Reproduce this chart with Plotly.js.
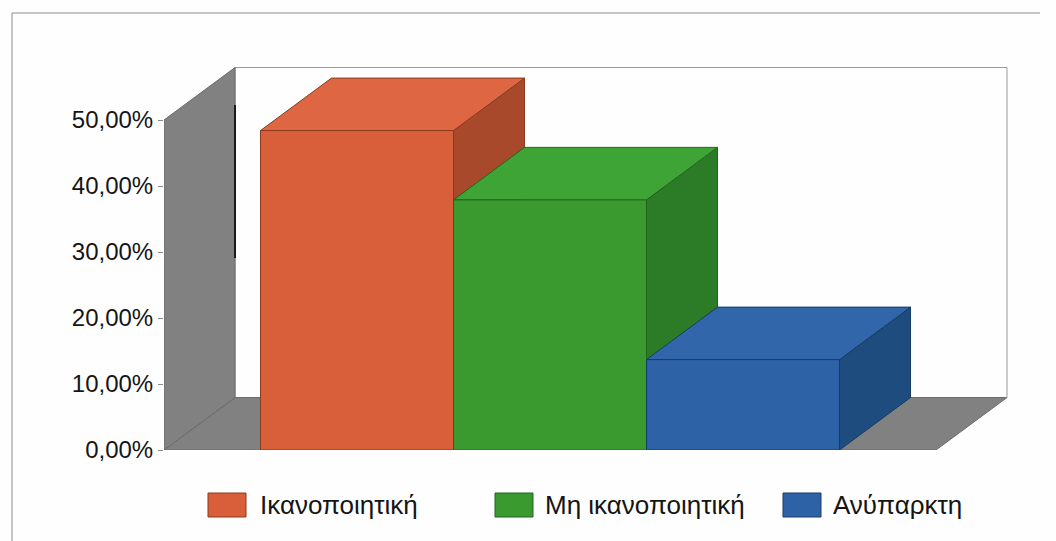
<!DOCTYPE html>
<html><head><meta charset="utf-8">
<script src="https://cdn.plot.ly/plotly-3.0.1.min.js"></script>
<style>html,body{margin:0;padding:0;background:#fff}#chart{width:1056px;height:541px}</style>
</head><body><div id="chart"></div>
<script>
// ---- data ----
const categories = ['Ικανοποιητική', 'Μη ικανοποιητική', 'Ανύπαρκτη'];
const values = [0.484, 0.379, 0.137];
const tickValues = [0, 0.1, 0.2, 0.3, 0.4, 0.5];

// ---- styles ----
const frontColors = ['#D95F3B', '#3A9A30', '#2E62A6'];
const topColors   = ['#DE6642', '#3FA436', '#3166AA'];
const sideColors  = ['#A8492B', '#2C7C27', '#1F4C7E'];
const edgeColors  = ['#8A3A20', '#22641E', '#173C64'];
const wallColor = '#818181';
const DX = 0.368, DY = 0.0795;      // oblique depth offset in data units
const AXMAX = 0.5;                   // wall height
const XMIN = -0.5, XMAX = categories.length + 0.5;

// plot area in px (for layout-only elements)
const M = {l: 164, r: 46, t: 55, b: 91};
const W = 1056, H = 541;
const pw = W - M.l - M.r, ph = H - M.t - M.b;
const px2x = p => (p - M.l) / pw;
const px2y = p => (H - M.b - p) / ph;

function face(xs, ys, fill, line) {
  return {type: 'scatter', mode: 'lines', x: xs.concat([xs[0]]), y: ys.concat([ys[0]]),
    fill: 'toself', fillcolor: fill, line: {color: line, width: 1},
    hoverinfo: 'skip', showlegend: false};
}

const traces = [];
// floor
traces.push(face([XMIN, XMIN + DX, XMAX + DX, XMAX], [0, DY, DY, 0], wallColor, '#6a6a6a'));
// back wall outline
traces.push({type: 'scatter', mode: 'lines',
  x: [XMIN + DX, XMIN + DX, XMAX + DX, XMAX + DX], y: [DY, AXMAX + DY, AXMAX + DY, DY],
  line: {color: '#9a9a9a', width: 1}, hoverinfo: 'skip', showlegend: false});
// left wall
traces.push(face([XMIN, XMIN, XMIN + DX, XMIN + DX], [0, AXMAX, AXMAX + DY, DY], wallColor, '#6a6a6a'));

// bars (left to right so later bars occlude earlier side faces)
values.forEach((v, i) => {
  const x0 = i, x1 = i + 1;
  traces.push(face([x1, x1, x1 + DX, x1 + DX], [0, v, v + DY, DY], sideColors[i], edgeColors[i]));
  traces.push(face([x0, x1, x1 + DX, x0 + DX], [v, v, v + DY, v + DY], topColors[i], edgeColors[i]));
  traces.push(face([x0, x1, x1, x0], [0, 0, v, v], frontColors[i], edgeColors[i]));
});

// legend (layout elements)
const legendBoxes = [[208, 246], [495, 533], [783, 821]];
const legendTextX = [258, 543, 831];
const shapes = [], annotations = [];
categories.forEach((c, i) => {
  shapes.push({type: 'rect', xref: 'paper', yref: 'paper',
    x0: px2x(legendBoxes[i][0]), x1: px2x(legendBoxes[i][1]), y0: px2y(493), y1: px2y(517),
    fillcolor: frontColors[i], line: {color: edgeColors[i], width: 1}});
  annotations.push({xref: 'paper', yref: 'paper', x: px2x(legendTextX[i]), y: px2y(505),
    xanchor: 'left', yanchor: 'middle', showarrow: false, text: c,
    font: {family: 'Liberation Sans, Arial, sans-serif', size: 26, color: '#151515'}});
});
// outer frame (top and left edges)
shapes.push({type: 'line', xref: 'paper', yref: 'paper', x0: px2x(12), x1: px2x(1040), y0: px2y(13), y1: px2y(13), line: {color: '#8c8c8c', width: 1}});
shapes.push({type: 'line', xref: 'paper', yref: 'paper', x0: px2x(12), x1: px2x(12), y0: px2y(13), y1: px2y(541), line: {color: '#8c8c8c', width: 1}});
// dark edge mark on the wall
shapes.push({type: 'line', xref: 'paper', yref: 'paper', x0: px2x(235), x1: px2x(235), y0: px2y(105), y1: px2y(258), line: {color: '#1a1a1a', width: 2}});

const layout = {
  width: W, height: H, margin: M,
  paper_bgcolor: '#fefefe', plot_bgcolor: 'rgba(0,0,0,0)',
  separators: ',.',
  showlegend: false,
  xaxis: {range: [XMIN, XMIN + pw / 193], visible: false, fixedrange: true},
  yaxis: {range: [0, ph / 660], tickvals: tickValues, tickformat: '.2%',
    ticks: 'outside', ticklen: 5, tickcolor: '#8a8a8a', showgrid: false, zeroline: false,
    showline: false, tickfont: {family: 'Liberation Sans, Arial, sans-serif', size: 24, color: '#151515'},
    fixedrange: true},
  shapes: shapes, annotations: annotations
};

Plotly.newPlot('chart', traces, layout, {staticPlot: true, displayModeBar: false});
</script>
</body></html>
